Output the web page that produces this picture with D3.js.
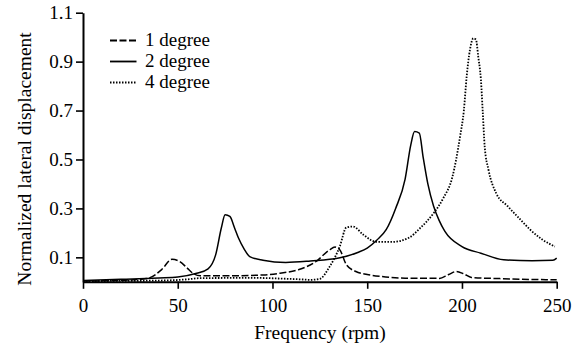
<!DOCTYPE html>
<html>
<head>
<meta charset="utf-8">
<script src="https://cdn.jsdelivr.net/npm/d3@7"></script>
<style>
  body { margin: 0; background: #fff; }
</style>
</head>
<body>
<div id="chart"></div>
<script>
// constants
const width = 584, height = 347;
const margin = { top: 12.7, right: 27.3, bottom: 65.2, left: 83 };
const serif = "'Liberation Serif'";

// data (frequency rpm, normalized displacement)
const seriesNames = ["1 degree", "2 degree", "4 degree"];
const dashStyles = ["7,2.5", null, "1.5,1.5"];
const xTicks = [0, 50, 100, 150, 200, 250];
const yTicks = [0.1, 0.3, 0.5, 0.7, 0.9, 1.1];

const deg1 = [
  [0, 0.003], [20, 0.006], [30, 0.01], [35, 0.016], [41.5, 0.05], [47, 0.092],
  [51, 0.083], [55, 0.056], [58, 0.035], [62, 0.025], [80, 0.025], [95, 0.028],
  [104, 0.035], [114, 0.05], [123, 0.083], [130, 0.13], [133, 0.142], [135.5, 0.131],
  [139, 0.07], [144, 0.042], [150, 0.03], [157, 0.022], [170, 0.015], [188, 0.014],
  [193, 0.03], [197, 0.042], [201, 0.032], [205, 0.018], [220, 0.013], [250, 0.008]
];
const deg2 = [
  [0, 0.005], [20, 0.01], [40, 0.016], [50, 0.02], [60, 0.035], [66, 0.053],
  [70, 0.11], [73, 0.22], [75, 0.274], [77.5, 0.267], [80, 0.22], [82, 0.18],
  [85, 0.135], [88, 0.103], [95, 0.088], [107, 0.079], [120, 0.085], [135, 0.097],
  [145, 0.12], [150, 0.138], [155, 0.17], [160, 0.213], [165, 0.3], [170, 0.42],
  [173, 0.56], [175, 0.614], [177.5, 0.608], [179.5, 0.51], [182, 0.4], [185, 0.31],
  [188, 0.25], [191, 0.206], [200, 0.144], [210, 0.117], [222, 0.09], [237, 0.086],
  [248, 0.088], [250, 0.097]
];
const deg4 = [
  [0, 0.003], [40, 0.005], [55, 0.01], [62, 0.015], [90, 0.016], [105, 0.013],
  [115, 0.01], [120, 0.008], [125, 0.012], [130, 0.06], [135.5, 0.144], [139, 0.222],
  [142.5, 0.226], [148, 0.192], [155, 0.163], [163, 0.163], [172, 0.18], [178, 0.22],
  [185, 0.28], [190, 0.34], [195, 0.43], [199, 0.594], [201, 0.7], [202.5, 0.84],
  [204.2, 0.948], [206, 0.995], [207.4, 0.99], [208.6, 0.92], [210, 0.826], [211, 0.69],
  [212, 0.553], [214, 0.458], [218, 0.363], [224, 0.31], [231, 0.253], [236, 0.213],
  [242, 0.175], [249, 0.144]
];
const seriesData = [deg1, deg2, deg4];

const svg = d3.select("#chart")
  .append("svg")
  .attr("width", width)
  .attr("height", height)
  .attr("font-family", serif);

const x = d3.scaleLinear()
  .domain([0, 250])
  .range([margin.left, width - margin.right]);

const y = d3.scaleLinear()
  .domain([0, 1.1])
  .range([height - margin.bottom, margin.top]);

// axes
const xAxis = svg.append("g")
  .attr("transform", `translate(0,${height - margin.bottom})`)
  .call(d3.axisBottom(x).tickValues(xTicks).tickSize(7).tickSizeOuter(0).tickPadding(5));

const yAxis = svg.append("g")
  .attr("transform", `translate(${margin.left},0)`)
  .call(d3.axisLeft(y).tickValues(yTicks).tickFormat(d3.format(".1f")).tickSize(7).tickSizeOuter(0).tickPadding(3));

[xAxis, yAxis].forEach(g => {
  g.attr("font-family", serif).attr("font-size", 19);
  g.select(".domain").attr("stroke-width", 2);
  g.selectAll(".tick line").attr("stroke-width", 1.6);
  g.selectAll(".tick text").attr("fill", "#000");
});
xAxis.selectAll(".tick text").attr("dy", "0.95em");

// titles
svg.append("text")
  .attr("x", 320)
  .attr("y", 339)
  .attr("text-anchor", "middle")
  .attr("font-size", 19.5)
  .text("Frequency (rpm)");

svg.append("text")
  .attr("transform", "translate(31,159) rotate(-90)")
  .attr("text-anchor", "middle")
  .attr("font-size", 19.5)
  .text("Normalized lateral displacement");

// lines
const line = d3.line()
  .x(d => x(d[0]))
  .y(d => y(d[1]))
  .curve(d3.curveMonotoneX);

svg.selectAll(".series")
  .data(seriesData)
  .join("path")
  .attr("class", "series")
  .attr("fill", "none")
  .attr("stroke", "#000")
  .attr("stroke-width", (d, i) => i === 2 ? 1.8 : 1.5)
  .attr("stroke-dasharray", (d, i) => dashStyles[i])
  .attr("d", line);

// legend
const legend = svg.append("g")
  .selectAll("g")
  .data(seriesNames)
  .join("g")
  .attr("transform", (d, i) => `translate(110,${40.5 + i * 21})`);

legend.append("line")
  .attr("x1", 0)
  .attr("x2", 26.5)
  .attr("stroke", "#000")
  .attr("stroke-width", (d, i) => i === 2 ? 1.8 : 1.8)
  .attr("stroke-dasharray", (d, i) => dashStyles[i]);

legend.append("text")
  .attr("x", 35)
  .attr("y", 5.5)
  .attr("font-size", 19)
  .text(d => d);
</script>
</body>
</html>
